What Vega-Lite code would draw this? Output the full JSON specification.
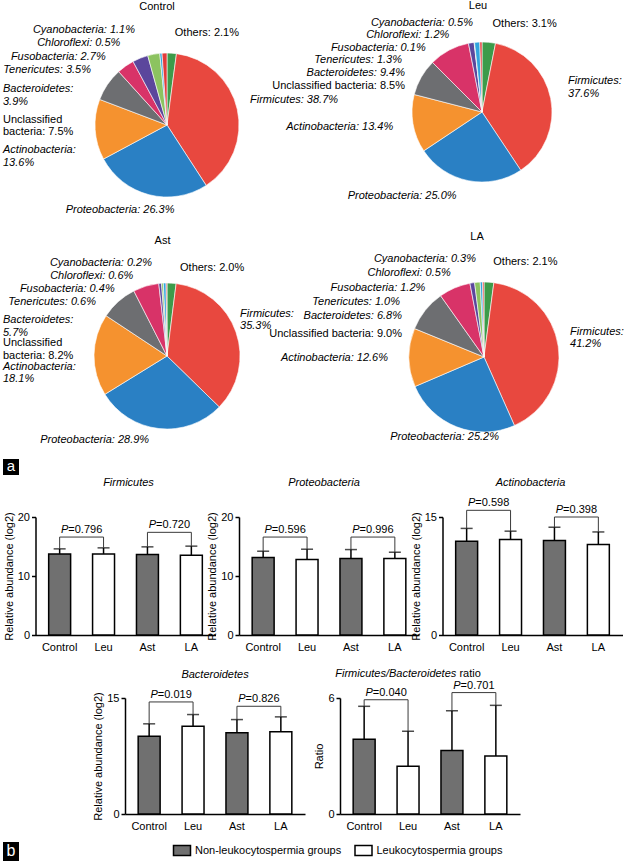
{
"$schema": "https://vega.github.io/schema/vega-lite/v6.json",
"background": "white",
"padding": {"left": 3, "top": 0, "right": 0, "bottom": 0},
"config": {
 "font": "Liberation Sans",
 "view": {"stroke": null},
 "text": {"font": "Liberation Sans", "fontSize": 11, "color": "black", "lineHeight": 12.5},
 "title": {"font": "Liberation Sans", "fontSize": 11, "fontWeight": "normal", "color": "black"},
 "axis": {"labelFont": "Liberation Sans", "labelFontSize": 11, "labelColor": "black", "titleFont": "Liberation Sans", "titleFontSize": 11, "titleFontWeight": "normal", "titleColor": "black", "domainColor": "black", "tickColor": "black", "domainWidth": 1.5, "tickWidth": 1.5, "grid": false},
 "legend": {"labelFont": "Liberation Sans", "labelFontSize": 11, "labelColor": "black"}
},
"datasets": {
 "pies": [
  {"pie":"Control","name":"Others","value":2.1,"ord":0,"label":"Others: 2.1%"},
  {"pie":"Control","name":"Firmicutes","value":38.7,"ord":1,"label":"Firmicutes: 38.7%"},
  {"pie":"Control","name":"Proteobacteria","value":26.3,"ord":2,"label":"Proteobacteria: 26.3%"},
  {"pie":"Control","name":"Actinobacteria","value":13.6,"ord":3,"label":"Actinobacteria:\n13.6%"},
  {"pie":"Control","name":"Unclassified bacteria","value":7.5,"ord":4,"label":"Unclassified\nbacteria: 7.5%"},
  {"pie":"Control","name":"Bacteroidetes","value":3.9,"ord":5,"label":"Bacteroidetes:\n3.9%"},
  {"pie":"Control","name":"Tenericutes","value":3.5,"ord":6,"label":"Tenericutes: 3.5%"},
  {"pie":"Control","name":"Fusobacteria","value":2.7,"ord":7,"label":"Fusobacteria: 2.7%"},
  {"pie":"Control","name":"Chloroflexi","value":0.5,"ord":8,"label":"Chloroflexi: 0.5%"},
  {"pie":"Control","name":"Cyanobacteria","value":1.1,"ord":9,"label":"Cyanobacteria: 1.1%"},
  {"pie":"Leu","name":"Others","value":3.1,"ord":0,"label":"Others: 3.1%"},
  {"pie":"Leu","name":"Firmicutes","value":37.6,"ord":1,"label":"Firmicutes:\n37.6%"},
  {"pie":"Leu","name":"Proteobacteria","value":25.0,"ord":2,"label":"Proteobacteria: 25.0%"},
  {"pie":"Leu","name":"Actinobacteria","value":13.4,"ord":3,"label":"Actinobacteria: 13.4%"},
  {"pie":"Leu","name":"Unclassified bacteria","value":8.5,"ord":4,"label":"Unclassified bacteria: 8.5%"},
  {"pie":"Leu","name":"Bacteroidetes","value":9.4,"ord":5,"label":"Bacteroidetes: 9.4%"},
  {"pie":"Leu","name":"Tenericutes","value":1.3,"ord":6,"label":"Tenericutes: 1.3%"},
  {"pie":"Leu","name":"Fusobacteria","value":0.1,"ord":7,"label":"Fusobacteria: 0.1%"},
  {"pie":"Leu","name":"Chloroflexi","value":1.2,"ord":8,"label":"Chloroflexi: 1.2%"},
  {"pie":"Leu","name":"Cyanobacteria","value":0.5,"ord":9,"label":"Cyanobacteria: 0.5%"},
  {"pie":"Ast","name":"Others","value":2.0,"ord":0,"label":"Others: 2.0%"},
  {"pie":"Ast","name":"Firmicutes","value":35.3,"ord":1,"label":"Firmicutes:\n35.3%"},
  {"pie":"Ast","name":"Proteobacteria","value":28.9,"ord":2,"label":"Proteobacteria: 28.9%"},
  {"pie":"Ast","name":"Actinobacteria","value":18.1,"ord":3,"label":"Actinobacteria:\n18.1%"},
  {"pie":"Ast","name":"Unclassified bacteria","value":8.2,"ord":4,"label":"Unclassified\nbacteria: 8.2%"},
  {"pie":"Ast","name":"Bacteroidetes","value":5.7,"ord":5,"label":"Bacteroidetes:\n5.7%"},
  {"pie":"Ast","name":"Tenericutes","value":0.6,"ord":6,"label":"Tenericutes: 0.6%"},
  {"pie":"Ast","name":"Fusobacteria","value":0.4,"ord":7,"label":"Fusobacteria: 0.4%"},
  {"pie":"Ast","name":"Chloroflexi","value":0.6,"ord":8,"label":"Chloroflexi: 0.6%"},
  {"pie":"Ast","name":"Cyanobacteria","value":0.2,"ord":9,"label":"Cyanobacteria: 0.2%"},
  {"pie":"LA","name":"Others","value":2.1,"ord":0,"label":"Others: 2.1%"},
  {"pie":"LA","name":"Firmicutes","value":41.2,"ord":1,"label":"Firmicutes:\n41.2%"},
  {"pie":"LA","name":"Proteobacteria","value":25.2,"ord":2,"label":"Proteobacteria: 25.2%"},
  {"pie":"LA","name":"Actinobacteria","value":12.6,"ord":3,"label":"Actinobacteria: 12.6%"},
  {"pie":"LA","name":"Unclassified bacteria","value":9.0,"ord":4,"label":"Unclassified bacteria: 9.0%"},
  {"pie":"LA","name":"Bacteroidetes","value":6.8,"ord":5,"label":"Bacteroidetes: 6.8%"},
  {"pie":"LA","name":"Tenericutes","value":1.0,"ord":6,"label":"Tenericutes: 1.0%"},
  {"pie":"LA","name":"Fusobacteria","value":1.2,"ord":7,"label":"Fusobacteria: 1.2%"},
  {"pie":"LA","name":"Chloroflexi","value":0.5,"ord":8,"label":"Chloroflexi: 0.5%"},
  {"pie":"LA","name":"Cyanobacteria","value":0.3,"ord":9,"label":"Cyanobacteria: 0.3%"}
 ],
 "bars": [
  {"panel":"Firmicutes","group":"Control","type":"Non-leukocytospermia groups","mean":13.75,"upper":14.6,"btop":16.6},
  {"panel":"Firmicutes","group":"Leu","type":"Leukocytospermia groups","mean":13.75,"upper":14.77,"btop":16.6},
  {"panel":"Firmicutes","group":"Ast","type":"Non-leukocytospermia groups","mean":13.64,"upper":14.94,"btop":17.4},
  {"panel":"Firmicutes","group":"LA","type":"Leukocytospermia groups","mean":13.52,"upper":15.06,"btop":17.4},
  {"panel":"Proteobacteria","group":"Control","type":"Non-leukocytospermia groups","mean":13.13,"upper":14.2,"btop":16.6},
  {"panel":"Proteobacteria","group":"Leu","type":"Leukocytospermia groups","mean":12.79,"upper":14.54,"btop":16.6},
  {"panel":"Proteobacteria","group":"Ast","type":"Non-leukocytospermia groups","mean":12.96,"upper":14.48,"btop":16.6},
  {"panel":"Proteobacteria","group":"LA","type":"Leukocytospermia groups","mean":12.96,"upper":14.03,"btop":16.6},
  {"panel":"Actinobacteria","group":"Control","type":"Non-leukocytospermia groups","mean":11.93,"upper":13.55,"btop":15.85},
  {"panel":"Actinobacteria","group":"Leu","type":"Leukocytospermia groups","mean":12.14,"upper":13.2,"btop":15.85},
  {"panel":"Actinobacteria","group":"Ast","type":"Non-leukocytospermia groups","mean":12.0,"upper":13.7,"btop":15.0},
  {"panel":"Actinobacteria","group":"LA","type":"Leukocytospermia groups","mean":11.5,"upper":13.1,"btop":15.0},
  {"panel":"Bacteroidetes","group":"Control","type":"Non-leukocytospermia groups","mean":10.07,"upper":11.66,"btop":14.49},
  {"panel":"Bacteroidetes","group":"Leu","type":"Leukocytospermia groups","mean":11.36,"upper":12.86,"btop":14.49},
  {"panel":"Bacteroidetes","group":"Ast","type":"Non-leukocytospermia groups","mean":10.5,"upper":12.21,"btop":13.93},
  {"panel":"Bacteroidetes","group":"LA","type":"Leukocytospermia groups","mean":10.63,"upper":12.56,"btop":13.93},
  {"panel":"Ratio","group":"Control","type":"Non-leukocytospermia groups","mean":3.86,"upper":5.57,"btop":5.91},
  {"panel":"Ratio","group":"Leu","type":"Leukocytospermia groups","mean":2.47,"upper":4.28,"btop":5.91},
  {"panel":"Ratio","group":"Ast","type":"Non-leukocytospermia groups","mean":3.28,"upper":5.34,"btop":6.28},
  {"panel":"Ratio","group":"LA","type":"Leukocytospermia groups","mean":3.0,"upper":5.62,"btop":6.28}
 ],
 "brackets": [
  {"panel":"Firmicutes","g1":"Control","g2":"Leu","btop":16.6,"pv":"=0.796"},
  {"panel":"Firmicutes","g1":"Ast","g2":"LA","btop":17.4,"pv":"=0.720"},
  {"panel":"Proteobacteria","g1":"Control","g2":"Leu","btop":16.6,"pv":"=0.596"},
  {"panel":"Proteobacteria","g1":"Ast","g2":"LA","btop":16.6,"pv":"=0.996"},
  {"panel":"Actinobacteria","g1":"Control","g2":"Leu","btop":15.85,"pv":"=0.598"},
  {"panel":"Actinobacteria","g1":"Ast","g2":"LA","btop":15.0,"pv":"=0.398"},
  {"panel":"Bacteroidetes","g1":"Control","g2":"Leu","btop":14.49,"pv":"=0.019"},
  {"panel":"Bacteroidetes","g1":"Ast","g2":"LA","btop":13.93,"pv":"=0.826"},
  {"panel":"Ratio","g1":"Control","g2":"Leu","btop":5.91,"pv":"=0.040"},
  {"panel":"Ratio","g1":"Ast","g2":"LA","btop":6.28,"pv":"=0.701"}
 ]
},
"spacing": 0,
"resolve": {"scale": {"theta": "independent"}},
"vconcat": [
 {"hconcat": [
  {"width": 328, "height": 164,
   "title": {"text": "Control", "offset": 12.5, "dx": -10},
   "data": {"name": "pies"},
   "transform": [{"filter": "datum.pie == 'Control'"}],
   "resolve": {"scale": {"x": "independent", "y": "independent"}},
   "layer": [
    {"mark": {"type": "arc", "outerRadius": 72, "stroke": "white", "strokeWidth": 0.6},
     "encoding": {"theta": {"field": "value", "type": "quantitative", "stack": true}, "order": {"field": "ord", "type": "quantitative"},
      "color": {"field": "name", "type": "nominal", "legend": null, "scale": {"domain": ["Firmicutes","Proteobacteria","Actinobacteria","Unclassified bacteria","Bacteroidetes","Tenericutes","Fusobacteria","Chloroflexi","Cyanobacteria","Others"], "range": ["#e8483f","#2a80c4","#f5922f","#6d6e71","#d83368","#5b469c","#8cc360","#31a5de","#e23b3b","#3d9b4a"]}}}},
    {"transform": [{"filter": "datum.ord == 0"}],
     "mark": {"type": "text", "radius": 88, "align": "left", "baseline": "middle", "dx": 2, "dy": -4},
     "encoding": {"theta": {"field": "value", "type": "quantitative", "stack": true}, "order": {"field": "ord", "type": "quantitative"}, "detail": {"field": "name", "type": "nominal"}, "text": {"field": "label"}}},
    {"transform": [{"filter": "datum.ord == 1"}],
     "mark": {"type": "text", "radius": 88.5, "align": "left", "baseline": "middle", "dy": 5.7, "fontStyle": "italic", "lineBreak": "\n"},
     "encoding": {"theta": {"field": "value", "type": "quantitative", "stack": true}, "order": {"field": "ord", "type": "quantitative"}, "detail": {"field": "name", "type": "nominal"}, "text": {"field": "label"}}},
    {"transform": [{"filter": "datum.ord <= 2"}],
     "mark": {"type": "text", "radius": 88, "align": "center", "baseline": "middle", "dx": -25, "fontStyle": "italic"},
     "encoding": {"theta": {"field": "value", "type": "quantitative", "stack": true}, "order": {"field": "ord", "type": "quantitative"}, "detail": {"field": "name", "type": "nominal"},
      "text": {"condition": {"test": "datum.name == 'Proteobacteria'", "field": "label"}, "value": ""}}},
    {"transform": [{"filter": {"field": "name", "oneOf": ["Cyanobacteria","Chloroflexi","Fusobacteria","Tenericutes"]}}],
     "mark": {"type": "text", "align": "right", "baseline": "middle", "fontStyle": "italic"},
     "encoding": {"x": {"field": "name", "type": "nominal", "axis": null, "scale": {"type": "point", "domain": ["Cyanobacteria","Chloroflexi","Fusobacteria","Tenericutes"], "range": [132, 88], "padding": 0}},
      "y": {"field": "name", "type": "nominal", "axis": null, "scale": {"type": "point", "domain": ["Cyanobacteria","Chloroflexi","Fusobacteria","Tenericutes"], "range": [-13, 27], "padding": 0}},
      "text": {"field": "label"}}},
    {"transform": [{"filter": {"field": "name", "oneOf": ["Bacteroidetes","Unclassified bacteria","Actinobacteria"]}}],
     "mark": {"type": "text", "align": "left", "baseline": "middle", "dx": -164, "lineBreak": "\n", "fontStyle": {"expr": "datum.name == 'Unclassified bacteria' ? 'normal' : 'italic'"}},
     "encoding": {"y": {"field": "name", "type": "nominal", "axis": null, "scale": {"type": "point", "domain": ["Bacteroidetes","Unclassified bacteria","Actinobacteria"], "range": [46, 107], "padding": 0}},
      "text": {"field": "label"}}}
   ]},
  {"width": 262, "height": 138,
   "title": {"text": "Leu", "offset": 5, "dx": -4},
   "data": {"name": "pies"},
   "transform": [{"filter": "datum.pie == 'Leu'"}],
   "resolve": {"scale": {"x": "independent", "y": "independent"}},
   "layer": [
    {"mark": {"type": "arc", "outerRadius": 70, "stroke": "white", "strokeWidth": 0.6},
     "encoding": {"theta": {"field": "value", "type": "quantitative", "stack": true}, "order": {"field": "ord", "type": "quantitative"},
      "color": {"field": "name", "type": "nominal", "legend": null, "scale": {"domain": ["Firmicutes","Proteobacteria","Actinobacteria","Unclassified bacteria","Bacteroidetes","Tenericutes","Fusobacteria","Chloroflexi","Cyanobacteria","Others"], "range": ["#e8483f","#2a80c4","#f5922f","#6d6e71","#d83368","#5b469c","#8cc360","#31a5de","#e23b3b","#3d9b4a"]}}}},
    {"transform": [{"filter": "datum.ord == 0"}],
     "mark": {"type": "text", "radius": 88, "align": "left", "baseline": "middle", "dx": 2},
     "encoding": {"theta": {"field": "value", "type": "quantitative", "stack": true}, "order": {"field": "ord", "type": "quantitative"}, "detail": {"field": "name", "type": "nominal"}, "text": {"field": "label"}}},
    {"transform": [{"filter": "datum.ord == 1"}],
     "mark": {"type": "text", "radius": 93, "align": "left", "baseline": "middle", "dy": 4.8, "fontStyle": "italic", "lineBreak": "\n"},
     "encoding": {"theta": {"field": "value", "type": "quantitative", "stack": true}, "order": {"field": "ord", "type": "quantitative"}, "detail": {"field": "name", "type": "nominal"}, "text": {"field": "label"}}},
    {"transform": [{"filter": "datum.ord <= 2"}],
     "mark": {"type": "text", "radius": 86, "align": "center", "baseline": "middle", "dx": -63, "fontStyle": "italic"},
     "encoding": {"theta": {"field": "value", "type": "quantitative", "stack": true}, "order": {"field": "ord", "type": "quantitative"}, "detail": {"field": "name", "type": "nominal"},
      "text": {"condition": {"test": "datum.name == 'Proteobacteria'", "field": "label"}, "value": ""}}},
    {"transform": [{"filter": "datum.ord <= 3"}],
     "mark": {"type": "text", "radius": 90, "align": "right", "baseline": "middle", "fontStyle": "italic"},
     "encoding": {"theta": {"field": "value", "type": "quantitative", "stack": true}, "order": {"field": "ord", "type": "quantitative"}, "detail": {"field": "name", "type": "nominal"},
      "text": {"condition": {"test": "datum.name == 'Actinobacteria'", "field": "label"}, "value": ""}}},
    {"transform": [{"filter": {"field": "name", "oneOf": ["Cyanobacteria","Chloroflexi","Fusobacteria","Tenericutes"]}}],
     "mark": {"type": "text", "align": "right", "baseline": "middle", "fontStyle": "italic"},
     "encoding": {"x": {"field": "name", "type": "nominal", "axis": null, "scale": {"type": "point", "domain": ["Cyanobacteria","Chloroflexi","Fusobacteria","Tenericutes"], "range": [122, 51], "padding": 0}},
      "y": {"field": "name", "type": "nominal", "axis": null, "scale": {"type": "point", "domain": ["Cyanobacteria","Chloroflexi","Fusobacteria","Tenericutes"], "range": [-20, 17], "padding": 0}},
      "text": {"field": "label"}}},
    {"transform": [{"filter": {"field": "name", "oneOf": ["Bacteroidetes","Unclassified bacteria"]}}],
     "mark": {"type": "text", "align": "right", "baseline": "middle", "dx": -77, "fontStyle": {"expr": "datum.name == 'Bacteroidetes' ? 'italic' : 'normal'"}},
     "encoding": {"y": {"field": "name", "type": "nominal", "axis": null, "scale": {"type": "point", "domain": ["Bacteroidetes","Unclassified bacteria"], "range": [30, 43], "padding": 0}},
      "text": {"field": "label"}}}
   ]}
 ], "spacing": 20, "bounds": "flush", "resolve": {"scale": {"theta": "independent"}}},
 {"width": 1, "height": 15, "data": {"values": []}, "mark": "point"},
 {"hconcat": [
  {"width": 328, "height": 162,
   "title": {"text": "Ast", "offset": 11.5, "dx": -4.5},
   "data": {"name": "pies"},
   "transform": [{"filter": "datum.pie == 'Ast'"}],
   "resolve": {"scale": {"x": "independent", "y": "independent"}},
   "layer": [
    {"mark": {"type": "arc", "outerRadius": 73, "stroke": "white", "strokeWidth": 0.6},
     "encoding": {"theta": {"field": "value", "type": "quantitative", "stack": true}, "order": {"field": "ord", "type": "quantitative"},
      "color": {"field": "name", "type": "nominal", "legend": null, "scale": {"domain": ["Firmicutes","Proteobacteria","Actinobacteria","Unclassified bacteria","Bacteroidetes","Tenericutes","Fusobacteria","Chloroflexi","Cyanobacteria","Others"], "range": ["#e8483f","#2a80c4","#f5922f","#6d6e71","#d83368","#5b469c","#8cc360","#31a5de","#e23b3b","#3d9b4a"]}}}},
    {"transform": [{"filter": "datum.ord == 0"}],
     "mark": {"type": "text", "radius": 88, "align": "left", "baseline": "middle", "dx": 7.5},
     "encoding": {"theta": {"field": "value", "type": "quantitative", "stack": true}, "order": {"field": "ord", "type": "quantitative"}, "detail": {"field": "name", "type": "nominal"}, "text": {"field": "label"}}},
    {"transform": [{"filter": "datum.ord == 1"}],
     "mark": {"type": "text", "radius": 81.6, "align": "left", "baseline": "middle", "dy": -6.1, "fontStyle": "italic", "lineBreak": "\n"},
     "encoding": {"theta": {"field": "value", "type": "quantitative", "stack": true}, "order": {"field": "ord", "type": "quantitative"}, "detail": {"field": "name", "type": "nominal"}, "text": {"field": "label"}}},
    {"transform": [{"filter": "datum.ord <= 2"}],
     "mark": {"type": "text", "radius": 85, "align": "center", "baseline": "middle", "dx": -63, "fontStyle": "italic"},
     "encoding": {"theta": {"field": "value", "type": "quantitative", "stack": true}, "order": {"field": "ord", "type": "quantitative"}, "detail": {"field": "name", "type": "nominal"},
      "text": {"condition": {"test": "datum.name == 'Proteobacteria'", "field": "label"}, "value": ""}}},
    {"transform": [{"filter": {"field": "name", "oneOf": ["Cyanobacteria","Chloroflexi","Fusobacteria","Tenericutes"]}}],
     "mark": {"type": "text", "align": "right", "baseline": "middle", "fontStyle": "italic"},
     "encoding": {"x": {"field": "name", "type": "nominal", "axis": null, "scale": {"type": "point", "domain": ["Cyanobacteria","Chloroflexi","Fusobacteria","Tenericutes"], "range": [149, 93], "padding": 0}},
      "y": {"field": "name", "type": "nominal", "axis": null, "scale": {"type": "point", "domain": ["Cyanobacteria","Chloroflexi","Fusobacteria","Tenericutes"], "range": [-12, 27], "padding": 0}},
      "text": {"field": "label"}}},
    {"transform": [{"filter": {"field": "name", "oneOf": ["Bacteroidetes","Unclassified bacteria","Actinobacteria"]}}],
     "mark": {"type": "text", "align": "left", "baseline": "middle", "dx": -164, "lineBreak": "\n", "fontStyle": {"expr": "datum.name == 'Unclassified bacteria' ? 'normal' : 'italic'"}},
     "encoding": {"y": {"field": "name", "type": "nominal", "axis": null, "scale": {"type": "point", "domain": ["Bacteroidetes","Unclassified bacteria","Actinobacteria"], "range": [45, 91.5], "padding": 0}},
      "text": {"field": "label"}}}
   ]},
  {"width": 266, "height": 164,
   "title": {"text": "LA", "offset": 11, "dx": -7},
   "data": {"name": "pies"},
   "transform": [{"filter": "datum.pie == 'LA'"}],
   "resolve": {"scale": {"x": "independent", "y": "independent"}},
   "layer": [
    {"mark": {"type": "arc", "outerRadius": 75, "stroke": "white", "strokeWidth": 0.6},
     "encoding": {"theta": {"field": "value", "type": "quantitative", "stack": true}, "order": {"field": "ord", "type": "quantitative"},
      "color": {"field": "name", "type": "nominal", "legend": null, "scale": {"domain": ["Firmicutes","Proteobacteria","Actinobacteria","Unclassified bacteria","Bacteroidetes","Tenericutes","Fusobacteria","Chloroflexi","Cyanobacteria","Others"], "range": ["#e8483f","#2a80c4","#f5922f","#6d6e71","#d83368","#5b469c","#8cc360","#31a5de","#e23b3b","#3d9b4a"]}}}},
    {"transform": [{"filter": "datum.ord == 0"}],
     "mark": {"type": "text", "radius": 95, "align": "left", "baseline": "middle", "dx": 3},
     "encoding": {"theta": {"field": "value", "type": "quantitative", "stack": true}, "order": {"field": "ord", "type": "quantitative"}, "detail": {"field": "name", "type": "nominal"}, "text": {"field": "label"}}},
    {"transform": [{"filter": "datum.ord == 1"}],
     "mark": {"type": "text", "radius": 89.4, "align": "left", "baseline": "middle", "dy": -1.2, "fontStyle": "italic", "lineBreak": "\n"},
     "encoding": {"theta": {"field": "value", "type": "quantitative", "stack": true}, "order": {"field": "ord", "type": "quantitative"}, "detail": {"field": "name", "type": "nominal"}, "text": {"field": "label"}}},
    {"transform": [{"filter": "datum.ord <= 2"}],
     "mark": {"type": "text", "radius": 86, "align": "center", "baseline": "middle", "dx": -8, "fontStyle": "italic"},
     "encoding": {"theta": {"field": "value", "type": "quantitative", "stack": true}, "order": {"field": "ord", "type": "quantitative"}, "detail": {"field": "name", "type": "nominal"},
      "text": {"condition": {"test": "datum.name == 'Proteobacteria'", "field": "label"}, "value": ""}}},
    {"transform": [{"filter": "datum.ord <= 3"}],
     "mark": {"type": "text", "radius": 96, "align": "right", "baseline": "middle", "fontStyle": "italic"},
     "encoding": {"theta": {"field": "value", "type": "quantitative", "stack": true}, "order": {"field": "ord", "type": "quantitative"}, "detail": {"field": "name", "type": "nominal"},
      "text": {"condition": {"test": "datum.name == 'Actinobacteria'", "field": "label"}, "value": ""}}},
    {"transform": [{"filter": {"field": "name", "oneOf": ["Cyanobacteria","Chloroflexi","Fusobacteria","Tenericutes"]}}],
     "mark": {"type": "text", "align": "right", "baseline": "middle", "fontStyle": "italic"},
     "encoding": {"x": {"field": "name", "type": "nominal", "axis": null, "scale": {"type": "point", "domain": ["Cyanobacteria","Chloroflexi","Fusobacteria","Tenericutes"], "range": [125, 49], "padding": 0}},
      "y": {"field": "name", "type": "nominal", "axis": null, "scale": {"type": "point", "domain": ["Cyanobacteria","Chloroflexi","Fusobacteria","Tenericutes"], "range": [-16, 27], "padding": 0}},
      "text": {"field": "label"}}},
    {"transform": [{"filter": {"field": "name", "oneOf": ["Bacteroidetes","Unclassified bacteria"]}}],
     "mark": {"type": "text", "align": "right", "baseline": "middle", "dx": -82, "fontStyle": {"expr": "datum.name == 'Bacteroidetes' ? 'italic' : 'normal'"}},
     "encoding": {"y": {"field": "name", "type": "nominal", "axis": null, "scale": {"type": "point", "domain": ["Bacteroidetes","Unclassified bacteria"], "range": [41, 59], "padding": 0}},
      "text": {"field": "label"}}}
   ]}
 ], "spacing": 20, "bounds": "flush", "resolve": {"scale": {"theta": "independent"}}},
 {"width": 1, "height": 6.5, "data": {"values": []}, "mark": "point"},
 {"width": 16, "height": 16, "view": {"fill": "black"}, "data": {"values": [{"t": "a"}]},
  "mark": {"type": "text", "color": "white", "fontSize": 15, "baseline": "middle", "align": "center", "dy": -1}, "encoding": {"text": {"field": "t"}}},
 {"width": 1, "height": 1, "data": {"values": []}, "mark": "point"},
 {"hconcat": [
  {"width": 8.5, "height": 1, "data": {"values": []}, "mark": "point"},
  {"width": 180, "height": 118,
   "title": {"text": "Firmicutes", "fontStyle": "italic", "frame": "group", "offset": 23.5, "dx": 3},
   "layer": [
    {"data": {"name": "bars"}, "transform": [{"filter": "datum.panel == 'Firmicutes'"}],
     "layer": [
      {"mark": {"type": "bar", "stroke": "black", "strokeWidth": 1.5},
       "encoding": {"x": {"field": "group", "type": "nominal", "scale": {"domain": ["Control","Leu","Ast","LA"], "paddingInner": 0.5, "paddingOuter": 0.3}, "axis": {"title": null, "labelAngle": 0, "ticks": false, "labelPadding": 6.5}},
        "y": {"field": "mean", "type": "quantitative", "scale": {"domain": [0, 20], "nice": false}, "axis": {"title": "Relative abundance (log2)", "values": [0,5,10,15,20], "tickSize": 4, "labelPadding": 2, "titlePadding": 3}},
        "fill": {"field": "type", "type": "nominal", "scale": {"domain": ["Non-leukocytospermia groups","Leukocytospermia groups"], "range": ["#707070","#ffffff"]},
         "legend": {"orient": "none", "legendX": 173, "legendY": 801.5, "direction": "horizontal", "title": null, "symbolType": "M-1.7,-1H1.7V1H-1.7Z", "symbolSize": 100, "symbolStrokeColor": "black", "symbolStrokeWidth": 1.5, "labelOffset": 7, "columnPadding": 9.5}}}},
      {"mark": {"type": "rule", "color": "black", "strokeWidth": 1.5}, "encoding": {"x": {"field": "group", "type": "nominal"}, "y": {"field": "mean", "type": "quantitative"}, "y2": {"field": "upper"}}},
      {"mark": {"type": "tick", "color": "black", "thickness": 1.5, "size": 12}, "encoding": {"x": {"field": "group", "type": "nominal"}, "y": {"field": "upper", "type": "quantitative"}}},
      {"mark": {"type": "rule", "color": "#3a3a3a", "strokeWidth": 1}, "encoding": {"x": {"field": "group", "type": "nominal"}, "y": {"field": "upper", "type": "quantitative"}, "y2": {"field": "btop"}}}
     ]},
    {"data": {"name": "brackets"}, "transform": [{"filter": "datum.panel == 'Firmicutes'"}],
     "layer": [
      {"mark": {"type": "rule", "color": "#3a3a3a", "strokeWidth": 1}, "encoding": {"x": {"field": "g1", "type": "nominal"}, "x2": {"field": "g2"}, "y": {"field": "btop", "type": "quantitative"}}},
      {"mark": {"type": "text", "align": "right", "baseline": "alphabetic", "fontStyle": "italic", "dx": -13.3, "dy": -4}, "encoding": {"x": {"field": "g1", "type": "nominal", "bandPosition": 1.5}, "y": {"field": "btop", "type": "quantitative"}, "text": {"value": "P"}}},
      {"mark": {"type": "text", "align": "left", "baseline": "alphabetic", "dx": -13.3, "dy": -4}, "encoding": {"x": {"field": "g1", "type": "nominal", "bandPosition": 1.5}, "y": {"field": "btop", "type": "quantitative"}, "text": {"field": "pv"}}}
     ]}
   ]},
  {"width": 180, "height": 118,
   "title": {"text": "Proteobacteria", "fontStyle": "italic", "frame": "group", "offset": 23.5, "dx": -5},
   "layer": [
    {"data": {"name": "bars"}, "transform": [{"filter": "datum.panel == 'Proteobacteria'"}],
     "layer": [
      {"mark": {"type": "bar", "stroke": "black", "strokeWidth": 1.5},
       "encoding": {"x": {"field": "group", "type": "nominal", "scale": {"domain": ["Control","Leu","Ast","LA"], "paddingInner": 0.5, "paddingOuter": 0.3}, "axis": {"title": null, "labelAngle": 0, "ticks": false, "labelPadding": 6.5}},
        "y": {"field": "mean", "type": "quantitative", "scale": {"domain": [0, 20], "nice": false}, "axis": {"title": "Relative abundance (log2)", "values": [0,5,10,15,20], "tickSize": 4, "labelPadding": 2, "titlePadding": 3}},
        "fill": {"field": "type", "type": "nominal", "scale": {"domain": ["Non-leukocytospermia groups","Leukocytospermia groups"], "range": ["#707070","#ffffff"]},
         "legend": {"orient": "none", "legendX": 173, "legendY": 801.5, "direction": "horizontal", "title": null, "symbolType": "M-1.7,-1H1.7V1H-1.7Z", "symbolSize": 100, "symbolStrokeColor": "black", "symbolStrokeWidth": 1.5, "labelOffset": 7, "columnPadding": 9.5}}}},
      {"mark": {"type": "rule", "color": "black", "strokeWidth": 1.5}, "encoding": {"x": {"field": "group", "type": "nominal"}, "y": {"field": "mean", "type": "quantitative"}, "y2": {"field": "upper"}}},
      {"mark": {"type": "tick", "color": "black", "thickness": 1.5, "size": 12}, "encoding": {"x": {"field": "group", "type": "nominal"}, "y": {"field": "upper", "type": "quantitative"}}},
      {"mark": {"type": "rule", "color": "#3a3a3a", "strokeWidth": 1}, "encoding": {"x": {"field": "group", "type": "nominal"}, "y": {"field": "upper", "type": "quantitative"}, "y2": {"field": "btop"}}}
     ]},
    {"data": {"name": "brackets"}, "transform": [{"filter": "datum.panel == 'Proteobacteria'"}],
     "layer": [
      {"mark": {"type": "rule", "color": "#3a3a3a", "strokeWidth": 1}, "encoding": {"x": {"field": "g1", "type": "nominal"}, "x2": {"field": "g2"}, "y": {"field": "btop", "type": "quantitative"}}},
      {"mark": {"type": "text", "align": "right", "baseline": "alphabetic", "fontStyle": "italic", "dx": -13.3, "dy": -4}, "encoding": {"x": {"field": "g1", "type": "nominal", "bandPosition": 1.5}, "y": {"field": "btop", "type": "quantitative"}, "text": {"value": "P"}}},
      {"mark": {"type": "text", "align": "left", "baseline": "alphabetic", "dx": -13.3, "dy": -4}, "encoding": {"x": {"field": "g1", "type": "nominal", "bandPosition": 1.5}, "y": {"field": "btop", "type": "quantitative"}, "text": {"field": "pv"}}}
     ]}
   ]},
  {"width": 180, "height": 118,
   "title": {"text": "Actinobacteria", "fontStyle": "italic", "frame": "group", "offset": 9.8, "dx": -2},
   "layer": [
    {"data": {"name": "bars"}, "transform": [{"filter": "datum.panel == 'Actinobacteria'"}],
     "layer": [
      {"mark": {"type": "bar", "stroke": "black", "strokeWidth": 1.5},
       "encoding": {"x": {"field": "group", "type": "nominal", "scale": {"domain": ["Control","Leu","Ast","LA"], "paddingInner": 0.5, "paddingOuter": 0.3}, "axis": {"title": null, "labelAngle": 0, "ticks": false, "labelPadding": 6.5}},
        "y": {"field": "mean", "type": "quantitative", "scale": {"domain": [0, 15], "nice": false}, "axis": {"title": "Relative abundance (log2)", "values": [0,5,10,15], "tickSize": 4, "labelPadding": 2, "titlePadding": 3}},
        "fill": {"field": "type", "type": "nominal", "scale": {"domain": ["Non-leukocytospermia groups","Leukocytospermia groups"], "range": ["#707070","#ffffff"]},
         "legend": {"orient": "none", "legendX": 173, "legendY": 801.5, "direction": "horizontal", "title": null, "symbolType": "M-1.7,-1H1.7V1H-1.7Z", "symbolSize": 100, "symbolStrokeColor": "black", "symbolStrokeWidth": 1.5, "labelOffset": 7, "columnPadding": 9.5}}}},
      {"mark": {"type": "rule", "color": "black", "strokeWidth": 1.5}, "encoding": {"x": {"field": "group", "type": "nominal"}, "y": {"field": "mean", "type": "quantitative"}, "y2": {"field": "upper"}}},
      {"mark": {"type": "tick", "color": "black", "thickness": 1.5, "size": 12}, "encoding": {"x": {"field": "group", "type": "nominal"}, "y": {"field": "upper", "type": "quantitative"}}},
      {"mark": {"type": "rule", "color": "#3a3a3a", "strokeWidth": 1}, "encoding": {"x": {"field": "group", "type": "nominal"}, "y": {"field": "upper", "type": "quantitative"}, "y2": {"field": "btop"}}}
     ]},
    {"data": {"name": "brackets"}, "transform": [{"filter": "datum.panel == 'Actinobacteria'"}],
     "layer": [
      {"mark": {"type": "rule", "color": "#3a3a3a", "strokeWidth": 1}, "encoding": {"x": {"field": "g1", "type": "nominal"}, "x2": {"field": "g2"}, "y": {"field": "btop", "type": "quantitative"}}},
      {"mark": {"type": "text", "align": "right", "baseline": "alphabetic", "fontStyle": "italic", "dx": -13.3, "dy": -4}, "encoding": {"x": {"field": "g1", "type": "nominal", "bandPosition": 1.5}, "y": {"field": "btop", "type": "quantitative"}, "text": {"value": "P"}}},
      {"mark": {"type": "text", "align": "left", "baseline": "alphabetic", "dx": -13.3, "dy": -4}, "encoding": {"x": {"field": "g1", "type": "nominal", "bandPosition": 1.5}, "y": {"field": "btop", "type": "quantitative"}, "text": {"field": "pv"}}}
     ]}
   ]}
 ], "spacing": 23.5, "bounds": "flush"},
 {"width": 1, "height": 14.5, "data": {"values": []}, "mark": "point"},
 {"hconcat": [
  {"width": 87, "height": 1, "data": {"values": []}, "mark": "point"},
  {"width": 180, "height": 116,
   "title": {"text": "Bacteroidetes", "fontStyle": "italic", "frame": "group", "offset": 8.5},
   "layer": [
    {"data": {"name": "bars"}, "transform": [{"filter": "datum.panel == 'Bacteroidetes'"}],
     "layer": [
      {"mark": {"type": "bar", "stroke": "black", "strokeWidth": 1.5},
       "encoding": {"x": {"field": "group", "type": "nominal", "scale": {"domain": ["Control","Leu","Ast","LA"], "paddingInner": 0.5, "paddingOuter": 0.3}, "axis": {"title": null, "labelAngle": 0, "ticks": false, "labelPadding": 6.5}},
        "y": {"field": "mean", "type": "quantitative", "scale": {"domain": [0, 15], "nice": false}, "axis": {"title": "Relative abundance (log2)", "values": [0,5,10,15], "tickSize": 4, "labelPadding": 2, "titlePadding": 3}},
        "fill": {"field": "type", "type": "nominal", "scale": {"domain": ["Non-leukocytospermia groups","Leukocytospermia groups"], "range": ["#707070","#ffffff"]},
         "legend": {"orient": "none", "legendX": 173, "legendY": 801.5, "direction": "horizontal", "title": null, "symbolType": "M-1.7,-1H1.7V1H-1.7Z", "symbolSize": 100, "symbolStrokeColor": "black", "symbolStrokeWidth": 1.5, "labelOffset": 7, "columnPadding": 9.5}}}},
      {"mark": {"type": "rule", "color": "black", "strokeWidth": 1.5}, "encoding": {"x": {"field": "group", "type": "nominal"}, "y": {"field": "mean", "type": "quantitative"}, "y2": {"field": "upper"}}},
      {"mark": {"type": "tick", "color": "black", "thickness": 1.5, "size": 12}, "encoding": {"x": {"field": "group", "type": "nominal"}, "y": {"field": "upper", "type": "quantitative"}}},
      {"mark": {"type": "rule", "color": "#3a3a3a", "strokeWidth": 1}, "encoding": {"x": {"field": "group", "type": "nominal"}, "y": {"field": "upper", "type": "quantitative"}, "y2": {"field": "btop"}}}
     ]},
    {"data": {"name": "brackets"}, "transform": [{"filter": "datum.panel == 'Bacteroidetes'"}],
     "layer": [
      {"mark": {"type": "rule", "color": "#3a3a3a", "strokeWidth": 1}, "encoding": {"x": {"field": "g1", "type": "nominal"}, "x2": {"field": "g2"}, "y": {"field": "btop", "type": "quantitative"}}},
      {"mark": {"type": "text", "align": "right", "baseline": "alphabetic", "fontStyle": "italic", "dx": -13.3, "dy": -4}, "encoding": {"x": {"field": "g1", "type": "nominal", "bandPosition": 1.5}, "y": {"field": "btop", "type": "quantitative"}, "text": {"value": "P"}}},
      {"mark": {"type": "text", "align": "left", "baseline": "alphabetic", "dx": -13.3, "dy": -4}, "encoding": {"x": {"field": "g1", "type": "nominal", "bandPosition": 1.5}, "y": {"field": "btop", "type": "quantitative"}, "text": {"field": "pv"}}}
     ]}
   ]},
  {"width": 180, "height": 116,
   "layer": [
    {"data": {"name": "bars"}, "transform": [{"filter": "datum.panel == 'Ratio'"}],
     "layer": [
      {"mark": {"type": "bar", "stroke": "black", "strokeWidth": 1.5},
       "encoding": {"x": {"field": "group", "type": "nominal", "scale": {"domain": ["Control","Leu","Ast","LA"], "paddingInner": 0.5, "paddingOuter": 0.3}, "axis": {"title": null, "labelAngle": 0, "ticks": false, "labelPadding": 6.5}},
        "y": {"field": "mean", "type": "quantitative", "scale": {"domain": [0, 6], "nice": false}, "axis": {"title": "Ratio", "values": [0,2,4,6], "tickSize": 4, "labelPadding": 2, "titlePadding": 3}},
        "fill": {"field": "type", "type": "nominal", "scale": {"domain": ["Non-leukocytospermia groups","Leukocytospermia groups"], "range": ["#707070","#ffffff"]},
         "legend": {"orient": "none", "legendX": 173, "legendY": 801.5, "direction": "horizontal", "title": null, "symbolType": "M-1.7,-1H1.7V1H-1.7Z", "symbolSize": 100, "symbolStrokeColor": "black", "symbolStrokeWidth": 1.5, "labelOffset": 7, "columnPadding": 9.5}}}},
      {"mark": {"type": "rule", "color": "black", "strokeWidth": 1.5}, "encoding": {"x": {"field": "group", "type": "nominal"}, "y": {"field": "mean", "type": "quantitative"}, "y2": {"field": "upper"}}},
      {"mark": {"type": "tick", "color": "black", "thickness": 1.5, "size": 12}, "encoding": {"x": {"field": "group", "type": "nominal"}, "y": {"field": "upper", "type": "quantitative"}}},
      {"mark": {"type": "rule", "color": "#3a3a3a", "strokeWidth": 1}, "encoding": {"x": {"field": "group", "type": "nominal"}, "y": {"field": "upper", "type": "quantitative"}, "y2": {"field": "btop"}}}
     ]},
    {"data": {"name": "brackets"}, "transform": [{"filter": "datum.panel == 'Ratio'"}],
     "layer": [
      {"mark": {"type": "rule", "color": "#3a3a3a", "strokeWidth": 1}, "encoding": {"x": {"field": "g1", "type": "nominal"}, "x2": {"field": "g2"}, "y": {"field": "btop", "type": "quantitative"}}},
      {"mark": {"type": "text", "align": "right", "baseline": "alphabetic", "fontStyle": "italic", "dx": -13.3, "dy": -4}, "encoding": {"x": {"field": "g1", "type": "nominal", "bandPosition": 1.5}, "y": {"field": "btop", "type": "quantitative"}, "text": {"value": "P"}}},
      {"mark": {"type": "text", "align": "left", "baseline": "alphabetic", "dx": -13.3, "dy": -4}, "encoding": {"x": {"field": "g1", "type": "nominal", "bandPosition": 1.5}, "y": {"field": "btop", "type": "quantitative"}, "text": {"field": "pv"}}}
     ]},
    {"data": {"values": [{"t": "Firmicutes/Bacteroidetes"}]},
     "mark": {"type": "text", "align": "right", "baseline": "middle", "fontStyle": "italic", "dx": 26.3},
     "encoding": {"y": {"datum": 7.24, "type": "quantitative"}, "text": {"field": "t"}}},
    {"data": {"values": [{"t": "ratio"}]},
     "mark": {"type": "text", "align": "left", "baseline": "middle", "dx": 29.4},
     "encoding": {"y": {"datum": 7.24, "type": "quantitative"}, "text": {"field": "t"}}}
   ]}
 ], "spacing": 35, "bounds": "flush"},
 {"width": 1, "height": 9.5, "data": {"values": []}, "mark": "point"},
 {"width": 16, "height": 19, "view": {"fill": "black"}, "data": {"values": [{"t": "b"}]},
  "mark": {"type": "text", "color": "white", "fontSize": 16, "baseline": "middle", "align": "center", "dy": -1}, "encoding": {"text": {"field": "t"}}}
]
}
